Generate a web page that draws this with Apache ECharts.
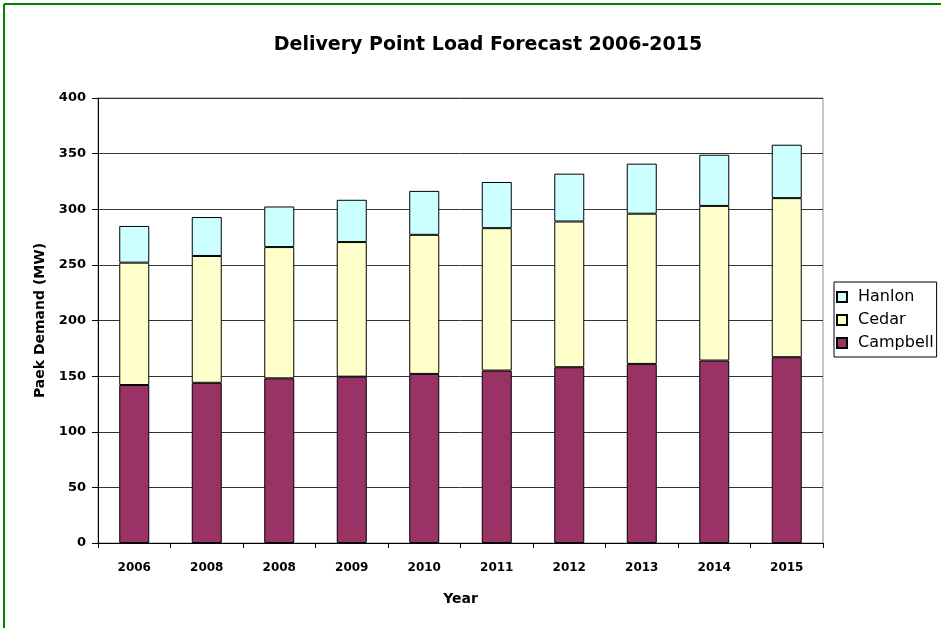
<!DOCTYPE html>
<html>
<head>
<meta charset="utf-8">
<script src="https://cdn.jsdelivr.net/npm/echarts@6/dist/echarts.min.js"></script>
<style>
  html, body { margin: 0; padding: 0; background: #fff; }
  #main { width: 941px; height: 628px; }
</style>
</head>
<body>
<div id="main"></div>
<script>
// categories as printed on the chart (yes, 2008 twice)
const years = ['2006', '2008', '2008', '2009', '2010', '2011', '2012', '2013', '2014', '2015'];
const campbell = [142, 144, 148, 149.5, 152, 155, 158, 161, 164, 167];
const cedar = [110, 114, 118, 121, 125, 128, 131, 135, 139, 143];
const hanlon = [33, 35, 36.5, 38, 39.5, 41.5, 43, 45, 46, 48];
const yTicks = [0, 50, 100, 150, 200, 250, 300, 350, 400];

const chart = echarts.init(document.getElementById('main'));
const font = 'DejaVu Sans';

function barSeries(name, data, color) {
  return {
    name: name,
    type: 'bar',
    stack: 'load',
    barWidth: 30,
    data: data,
    itemStyle: { color: color, borderColor: '#000', borderWidth: 1 }
  };
}

chart.setOption({
  animation: false,
  title: {
    text: 'Delivery Point Load Forecast 2006-2015',
    left: 483,
    top: 31,
    textAlign: 'center',
    textStyle: { fontFamily: font, fontWeight: 'bold', fontSize: 19, color: '#000' }
  },
  legend: {
    orient: 'vertical',
    left: 834,
    top: 282,
    data: ['Hanlon', 'Cedar', 'Campbell'],
    icon: 'rect',
    itemWidth: 10,
    itemHeight: 10,
    itemGap: 7,
    padding: [7, 3, 6, 2],
    borderColor: '#000',
    borderWidth: 1,
    textStyle: { fontFamily: font, fontSize: 16, color: '#000', lineHeight: 16, padding: [0, 0, 0, 6] }
  },
  grid: {
    left: 98,
    right: 118,
    top: 98,
    bottom: 85,
    show: true,
    borderColor: '#909090',
    borderWidth: 1
  },
  xAxis: {
    type: 'category',
    data: years,
    name: 'Year',
    nameLocation: 'middle',
    nameGap: 49,
    nameTextStyle: { fontFamily: font, fontWeight: 'bold', fontSize: 14, color: '#000' },
    axisLine: { lineStyle: { color: '#000' } },
    axisTick: { show: true, length: 5, lineStyle: { color: '#000' } },
    axisLabel: { fontFamily: font, fontWeight: 'bold', fontSize: 12, color: '#000', margin: 19 }
  },
  yAxis: {
    type: 'value',
    min: 0,
    max: 400,
    interval: 50,
    name: 'Paek Demand (MW)',
    nameLocation: 'middle',
    nameGap: 51,
    nameTextStyle: { fontFamily: font, fontWeight: 'bold', fontSize: 14, color: '#000' },
    axisLine: { show: true, lineStyle: { color: '#000' } },
    axisTick: { show: true, length: 6, lineStyle: { color: '#000' } },
    axisLabel: {
      fontFamily: font, fontWeight: 'bold', fontSize: 13, color: '#000', margin: 12,
      formatter: function (v) { return yTicks.indexOf(v) >= 0 ? String(v) : ''; }
    },
    splitLine: { show: true, lineStyle: { color: '#333', width: 1 } }
  },
  series: [
    barSeries('Campbell', campbell, '#993366'),
    barSeries('Cedar', cedar, '#FFFFCC'),
    barSeries('Hanlon', hanlon, '#CCFFFF')
  ],
  // green frame of the original sheet (top and left edges only)
  graphic: [
    { type: 'line', shape: { x1: 4, y1: 4, x2: 941, y2: 4 }, style: { stroke: '#008000', lineWidth: 2 } },
    { type: 'line', shape: { x1: 4, y1: 4, x2: 4, y2: 628 }, style: { stroke: '#008000', lineWidth: 2 } }
  ]
});
</script>
</body>
</html>
